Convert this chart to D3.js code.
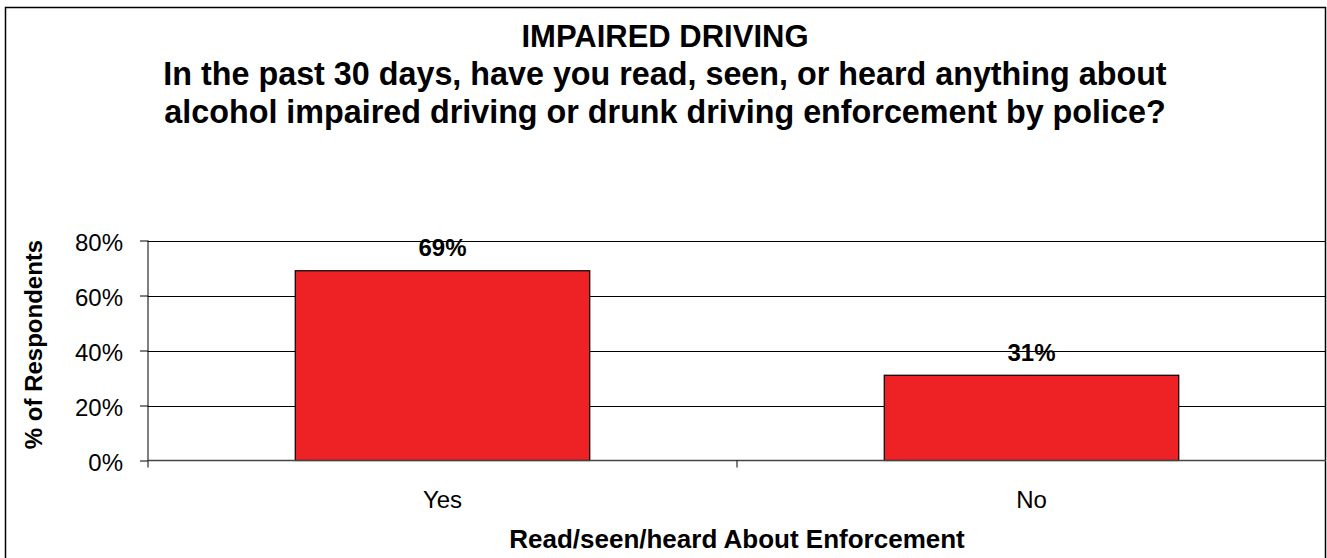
<!DOCTYPE html>
<html><head><meta charset="utf-8">
<script src="https://cdn.jsdelivr.net/npm/d3@7"></script>
<style>body{margin:0;background:#fff}svg{display:block}text{font-family:"Liberation Sans",Arial,sans-serif}</style>
</head><body><svg id="c" width="1327" height="558"></svg>
<script>
const categories = ["Yes", "No"];
const values = [69, 31];
const yTicks = [0, 20, 40, 60, 80];
const titleLines = ["IMPAIRED DRIVING", "In the past 30 days, have you read, seen, or heard anything about", "alcohol impaired driving or drunk driving enforcement by police?"];
const xTitle = "Read/seen/heard About Enforcement";
const yTitle = "% of Respondents";

const svg = d3.select("#c");
const m = {l: 148, r: 1326, t: 240.5, b: 460.5};

svg.append("rect").attr("x", 5.5).attr("y", 7.5).attr("width", 1320).attr("height", 560)
  .attr("fill", "#fff").attr("stroke", "#000").attr("stroke-width", 1.5);

const x = d3.scaleBand().domain(categories).range([m.l, m.r]).paddingInner(0.5).paddingOuter(0.25);
const y = d3.scaleLinear().domain([0, 80]).range([m.b, m.t]);

// gridlines
svg.append("g").selectAll("line").data(yTicks.filter(d => d > 0)).join("line")
  .attr("x1", m.l).attr("x2", m.r).attr("y1", d => Math.round(y(d)) + 0.5).attr("y2", d => Math.round(y(d)) + 0.5)
  .attr("stroke", "#000").attr("stroke-width", 1);

// y axis
const ya = svg.append("g").attr("transform", `translate(${m.l},0)`)
  .call(d3.axisLeft(y).tickValues(yTicks).tickFormat(d => d + "%").tickSize(8).tickPadding(17));
ya.select(".domain").remove();
ya.selectAll(".tick line").attr("stroke", "#000");
ya.selectAll(".tick text").attr("font-size", 24).attr("fill", "#000").attr("dy", "0.4em");
svg.append("line").attr("x1", m.l).attr("x2", m.l).attr("y1", m.t).attr("y2", m.b + 7).attr("stroke", "#000");

// bars
svg.append("g").selectAll("rect").data(values).join("rect")
  .attr("x", (d, i) => x(categories[i])).attr("width", x.bandwidth())
  .attr("y", d => y(d)).attr("height", d => y(0) - y(d))
  .attr("fill", "#ee2224").attr("stroke", "#000").attr("stroke-width", 1.2);

// x axis
const step = x.step();
svg.append("line").attr("x1", m.l).attr("x2", m.r).attr("y1", m.b).attr("y2", m.b).attr("stroke", "#444").attr("stroke-width", 1.5);
svg.append("line").attr("x1", m.l + step).attr("x2", m.l + step).attr("y1", m.b).attr("y2", m.b + 7).attr("stroke", "#000");
svg.append("g").selectAll("text").data(categories).join("text")
  .attr("x", d => x(d) + x.bandwidth() / 2).attr("y", 508).attr("text-anchor", "middle")
  .attr("font-size", 24).text(d => d);

// value labels
svg.append("g").selectAll("text").data(values).join("text")
  .attr("x", (d, i) => x(categories[i]) + x.bandwidth() / 2).attr("y", d => y(d) - 14.5)
  .attr("text-anchor", "middle").attr("font-size", 24).attr("font-weight", "bold").text(d => d + "%");

// titles
const titleSizes = [31, 32.3, 32.3];
svg.append("g").selectAll("text").data(titleLines).join("text")
  .attr("x", 665).attr("y", (d, i) => 47 + i * 38).attr("text-anchor", "middle")
  .attr("font-size", (d, i) => titleSizes[i]).attr("font-weight", "bold").text(d => d);

svg.append("text").attr("x", (m.l + m.r) / 2).attr("y", 548).attr("text-anchor", "middle")
  .attr("font-size", 26).attr("font-weight", "bold").text(xTitle);
svg.append("text").attr("transform", `translate(42,${(m.t + m.b) / 2 - 6}) rotate(-90)`).attr("text-anchor", "middle")
  .attr("font-size", 24).attr("font-weight", "bold").text(yTitle);
</script></body></html>
